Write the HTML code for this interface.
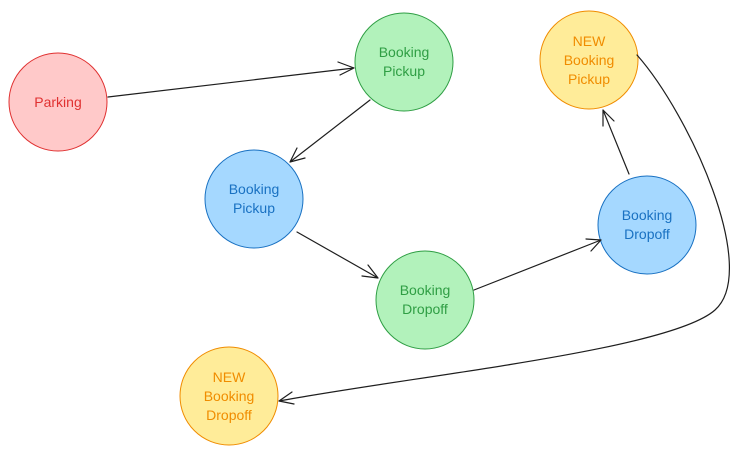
<!DOCTYPE html>
<html><head><meta charset="utf-8"><style>
html,body{margin:0;padding:0;background:#fff;}
svg{display:block;}
text{font-family:"Liberation Sans",sans-serif;font-size:14px;text-anchor:middle;}
</style></head><body>
<svg width="740" height="457" viewBox="0 0 740 457" xmlns="http://www.w3.org/2000/svg">
<g stroke-width="1">
<circle cx="58" cy="102" r="49" fill="#ffc9c9" stroke="#e03131"/>
<circle cx="404" cy="62" r="49" fill="#b2f2bb" stroke="#2f9e44"/>
<circle cx="254" cy="199" r="49" fill="#a5d8ff" stroke="#1971c2"/>
<circle cx="425" cy="300" r="49" fill="#b2f2bb" stroke="#2f9e44"/>
<circle cx="647" cy="225" r="49" fill="#a5d8ff" stroke="#1971c2"/>
<circle cx="589" cy="60" r="49" fill="#ffec99" stroke="#f08c00"/>
<circle cx="229" cy="396" r="49" fill="#ffec99" stroke="#f08c00"/>
</g>
<g fill="none" stroke="#1e1e1e" stroke-width="1.2" stroke-linecap="round">
<path d="M108 97 L354 68 M354 68 L338 62 M354 68 L340 75"/>
<path d="M370 100 L290 162 M290 162 L297 148 M290 162 L305 158"/>
<path d="M297 232 L378 278 M378 278 L362 276 M378 278 L368 265"/>
<path d="M474 290 L601 240 M601 240 L586 239 M601 240 L591 251"/>
<path d="M629 174 L603 110 M603 110 L603 126 M603 110 L614 121"/>
<path d="M637 55 C690 115 760 270 715 310 C670 350 420 375 279 401 M279 401 L292 392 M279 401 L294 404"/>
</g>
<text x="58" y="107" fill="#e03131">Parking</text>
<text x="404" y="57" fill="#2f9e44">Booking</text>
<text x="404" y="76" fill="#2f9e44">Pickup</text>
<text x="254" y="194" fill="#1971c2">Booking</text>
<text x="254" y="213" fill="#1971c2">Pickup</text>
<text x="425" y="295" fill="#2f9e44">Booking</text>
<text x="425" y="314" fill="#2f9e44">Dropoff</text>
<text x="647" y="220" fill="#1971c2">Booking</text>
<text x="647" y="239" fill="#1971c2">Dropoff</text>
<text x="589" y="46" fill="#f08c00">NEW</text>
<text x="589" y="65" fill="#f08c00">Booking</text>
<text x="589" y="84" fill="#f08c00">Pickup</text>
<text x="229" y="382" fill="#f08c00">NEW</text>
<text x="229" y="401" fill="#f08c00">Booking</text>
<text x="229" y="420" fill="#f08c00">Dropoff</text>
</svg>
</body></html>
